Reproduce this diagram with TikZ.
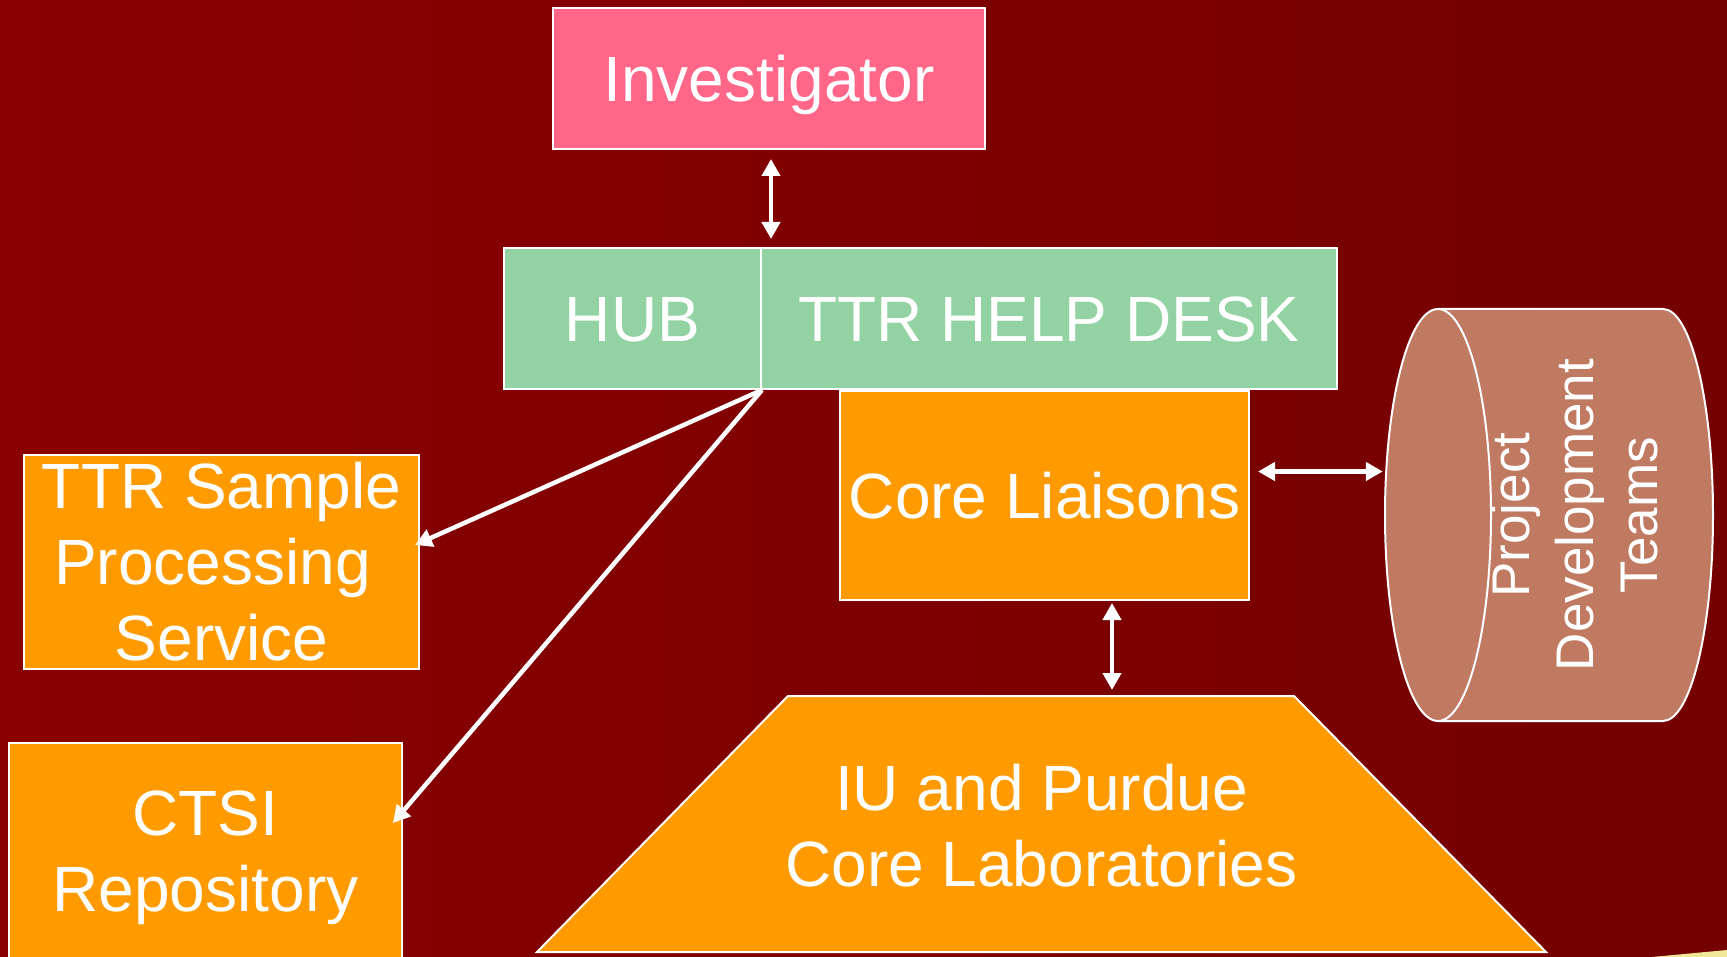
\documentclass[tikz,border=0pt]{standalone}
\usepackage{fontspec}
\setmainfont{Liberation Sans}
\usetikzlibrary{arrows.meta,shapes.geometric,calc}
\definecolor{bgL}{RGB}{138,0,0}
\definecolor{bgR}{RGB}{116,0,0}
\definecolor{pinkbox}{RGB}{255,102,136}
\definecolor{greenbox}{RGB}{147,211,163}
\definecolor{orangebox}{RGB}{255,155,0}
\definecolor{cylfill}{RGB}{192,122,98}
\definecolor{sliver}{RGB}{240,232,150}
\newcommand\diagfont{\fontsize{64}{76}\selectfont}
\newcommand\cylfont{\fontsize{53}{64}\selectfont}
\begin{document}
\begin{tikzpicture}[x=1pt,y=-1pt,
  box/.style={draw=white, line width=2pt, text=white, inner sep=0pt, align=center, font=\diagfont},
  oneline/.style={text height=46pt, text depth=0pt},
  link/.style={draw=white, line width=4.5pt, -{Triangle[length=17pt,width=18pt]}},
  dlink/.style={draw=white, line width=4.5pt, {Triangle[length=17pt,width=18pt]}-{Triangle[length=17pt,width=18pt]}},
  shapeline/.style={draw=white, line width=2pt}]
\useasboundingbox (0,0) rectangle (1727,957);
\clip (0,0) rectangle (1727,957);
\shade[left color=bgL, right color=bgR] (0,0) rectangle (1727,957);
\fill[sliver] (1652,957) .. controls (1690,953) .. (1727,950) -- (1727,957) -- cycle;

% boxes
\node[box, oneline, fill=pinkbox, minimum width=432pt, minimum height=141pt] (inv) at (769,78.5) {Investigator};
\node[box, oneline, fill=greenbox, minimum width=257pt, minimum height=141pt] (hub) at (632.5,318.5) {HUB};
\node[box, oneline, fill=greenbox, minimum width=576pt, minimum height=141pt] (desk) at (1049,318.5) {TTR HELP DESK};
\node[box, oneline, fill=orangebox, minimum width=409pt, minimum height=209pt] (cl) at (1044.5,495.5) {Core Liaisons};
\node[box, fill=orangebox, minimum width=395pt, minimum height=214pt] (ts) at (221.5,562) {TTR Sample\\Processing\rule{18pt}{0pt}\\Service};
\node[box, fill=orangebox, minimum width=393pt, minimum height=230pt] (ctsi) at (205.5,858) {CTSI\\Repository};

% trapezoid (core laboratories)
\draw[shapeline, fill=orangebox] (788,696) -- (1294,696) -- (1546,952) -- (537,952) -- cycle;
\coordinate (labstop) at (1112,696);
\node[text=white, align=center, font=\diagfont, inner sep=0pt] (labs) at (1041.5,826) {IU and Purdue\\Core Laboratories};

% cylinder
\node[minimum width=328pt, minimum height=412pt, inner sep=0pt] (pdt) at (1549,515) {};
\draw[shapeline, fill=cylfill] (1438,309) -- (1663,309) arc[start angle=90, end angle=-90, x radius=50pt, y radius=206pt] -- (1438,721) -- cycle;
\draw[shapeline, fill=cylfill] (1438,515) ellipse[x radius=53pt, y radius=206pt];
\node[text=white, rotate=90, align=center, font=\cylfont, inner sep=0pt] (pdtlabel) at (1575,515) {Project\\Development\\Teams};

% connectors
\draw[dlink] ($(inv.south)+(2,9)$) -- ($(inv.south |- desk.north)+(2,-8)$);
\draw[link] (hub.south east) -- ($(ts.east)+(-5,-17)$);
\draw[link] (hub.south east) -- ($(ctsi.east)+(-10,-35)$);
\draw[dlink] ($(cl.east)+(8,-24)$) -- ($(cl.east -| pdt.west)+(-2,-24)$);
\draw[dlink] ($(cl.south -| labstop)+(0,2)$) -- ($(labstop)+(0,-6)$);
\end{tikzpicture}
\end{document}
